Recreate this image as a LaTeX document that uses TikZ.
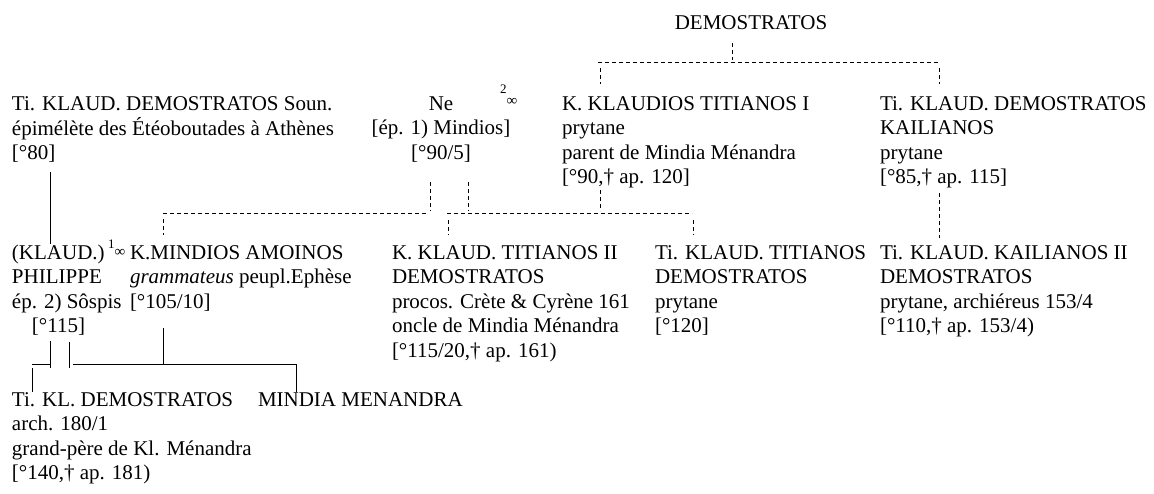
\documentclass[tikz,border=0pt]{standalone}
\usepackage{fontspec}
\setmainfont{Liberation Serif}
\newcommand{\gfs}{\fontsize{21}{24.5}\selectfont}
\newcommand{\gl}[1]{\begin{tabular}[t]{@{}l@{}}#1\end{tabular}}
\newcommand{\gc}[1]{\begin{tabular}[t]{@{}c@{}}#1\end{tabular}}
\newcommand{\marrsign}[3]{\raisebox{#2pt}{\fontsize{13}{13}\selectfont #1}\raisebox{#3pt}{\fontsize{15}{15}\selectfont ∞}}
\begin{document}
\begin{tikzpicture}[x=1pt,y=-1pt,
  person/.style={inner sep=0pt, outer sep=0pt, anchor=base west, font=\gfs},
  personc/.style={inner sep=0pt, outer sep=0pt, anchor=base, font=\gfs},
  kin/.style={line width=0.85pt, draw=black},
  alt/.style={line width=0.85pt, draw=black, dash pattern=on 4pt off 3pt},
]
\useasboundingbox (0,0) rectangle (1154,493);

% row 0
\node[personc] (demo) at (751,29) {DEMOSTRATOS};

% row 1
\node[person] (tkd) at (12,110) {\gl{Ti. KLAUD. DEMOSTRATOS Soun.\\ épimélète des Étéoboutades à Athènes\\ {}[°80]}};
\node[personc] (ne) at (441,110) {\gc{Ne\\ {}[ép. 1) Mindios]\\ {}[°90/5]}};
\node[person] (m2) at (500,110) {\marrsign{2}{17}{5}};
\node[person] (kkt1) at (562,110) {\gl{K. KLAUDIOS TITIANOS I\\ prytane\\ parent de Mindia Ménandra\\ {}[°90,† ap. 120]}};
\node[person] (tkdk) at (880,110) {\gl{Ti. KLAUD. DEMOSTRATOS\\ KAILIANOS\\ prytane\\ {}[°85,† ap. 115]}};

% row 2
\node[person] (kl) at (12,259) {\gl{(KLAUD.)\\ PHILIPPE\\ ép. 2) Sôspis\\ \hspace{20pt}[°115]}};
\node[person] (m1) at (108,259) {\marrsign{1}{11}{3}};
\node[person] (kma) at (130,259) {\gl{K.MINDIOS AMOINOS\\ \textit{grammateus} peupl.Ephèse\\ {}[°105/10]}};
\node[person] (kkt2) at (392,259) {\gl{K. KLAUD. TITIANOS II\\ DEMOSTRATOS\\ procos. Crète \& Cyrène 161\\ oncle de Mindia Ménandra\\ {}[°115/20,† ap. 161)}};
\node[person] (tkt) at (655,259) {\gl{Ti. KLAUD. TITIANOS\\ DEMOSTRATOS\\ prytane\\ {}[°120]}};
\node[person] (tkk2) at (880,259) {\gl{Ti. KLAUD. KAILIANOS II\\ DEMOSTRATOS\\ prytane, archiéreus 153/4\\ {}[°110,† ap. 153/4)}};

% row 3
\node[person] (tkld) at (12,406) {\gl{Ti. KL. DEMOSTRATOS\\ arch. 180/1\\ grand-père de Kl. Ménandra\\ {}[°140,† ap. 181)}};
\node[person] (mm) at (258,406) {MINDIA MENANDRA};

% junction coordinates
\coordinate (dT) at (732,43);
\coordinate (dH) at (732,60);
\coordinate (hL) at (598,62);
\coordinate (hR) at (939,62);
\coordinate (k1a) at (600,68);
\coordinate (k1b) at (600,84);
\coordinate (k2a) at (939,68);
\coordinate (k2b) at (939,84);

\coordinate (neL) at (430,182);
\coordinate (neLb) at (430,211);
\coordinate (neR) at (468,182);
\coordinate (neRb) at (468,211);
\coordinate (lhA) at (163,213);
\coordinate (lhB) at (428,213);
\coordinate (mdA) at (163,219);
\coordinate (mdB) at (163,235);
\coordinate (kkA) at (600,190);
\coordinate (kkB) at (600,211);
\coordinate (rhA) at (447,213);
\coordinate (rhB) at (692,213);
\coordinate (t2A) at (448,220);
\coordinate (t2B) at (448,235);
\coordinate (ttA) at (693,220);
\coordinate (ttB) at (693,235);
\coordinate (kaA) at (939,193);
\coordinate (kaB) at (939,238);

\coordinate (s1A) at (50,172);
\coordinate (s1B) at (50,244);
\coordinate (maA) at (163,328);
\coordinate (maB) at (163,364);
\coordinate (p1A) at (50,341);
\coordinate (p1B) at (50,368);
\coordinate (p2A) at (69,342);
\coordinate (p2B) at (69,368);
\coordinate (shA) at (32,364);
\coordinate (shB) at (50,364);
\coordinate (ldA) at (32,368);
\coordinate (ldB) at (32,392);
\coordinate (lhhA) at (73,364);
\coordinate (lhhB) at (296,364);
\coordinate (rdB) at (296,392);

% dashed (uncertain) links
\draw[alt] (dT) -- (dH);
\draw[alt] (hL) -- (hR);
\draw[alt] (k1a) -- (k1b);
\draw[alt] (k2a) -- (k2b);
\draw[alt] (neL) -- (neLb);
\draw[alt] (neR) -- (neRb);
\draw[alt] (lhA) -- (lhB);
\draw[alt] (mdA) -- (mdB);
\draw[alt] (kkA) -- (kkB);
\draw[alt] (rhA) -- (rhB);
\draw[alt] (t2A) -- (t2B);
\draw[alt] (ttA) -- (ttB);
\draw[alt] (kaA) -- (kaB);

% solid links
\draw[kin] (s1A) -- (s1B);
\draw[kin] (maA) -- (maB);
\draw[kin] (p1A) -- (p1B);
\draw[kin] (p2A) -- (p2B);
\draw[kin] (shA) -- (shB);
\draw[kin] (ldA) -- (ldB);
\draw[kin] (lhhA) -- (lhhB) -- (rdB);
\end{tikzpicture}
\end{document}
